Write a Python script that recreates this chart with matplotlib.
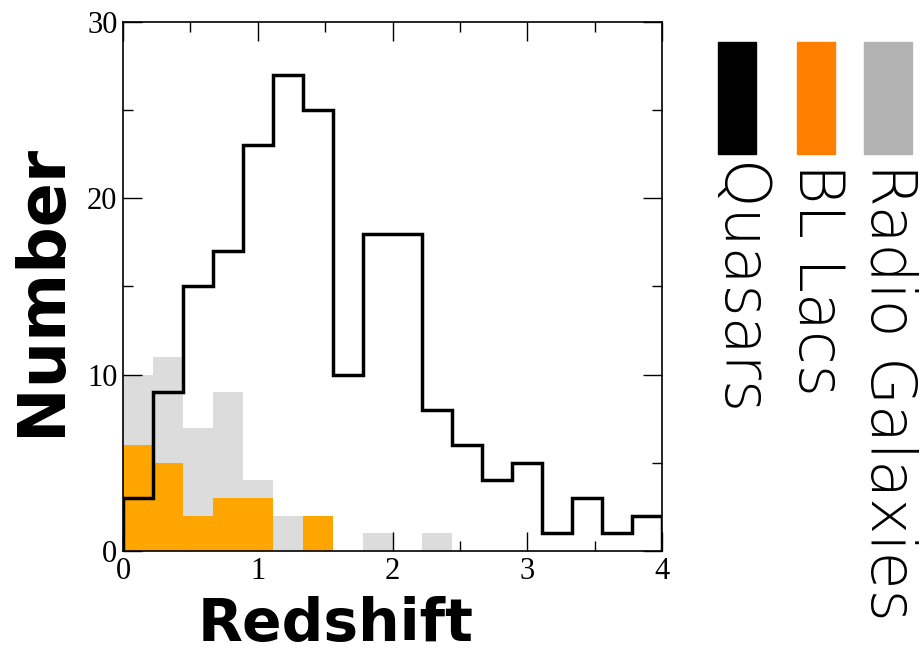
import matplotlib.pyplot as plt
import numpy as np
from matplotlib.ticker import MultipleLocator

# histogram bins: 18 bins from 0 to 4
edges = np.linspace(0, 4, 19)
quasars = [3, 9, 15, 17, 23, 27, 25, 10, 18, 18, 8, 6, 4, 5, 1, 3, 1, 2]
bl_lacs = [6, 5, 2, 3, 3, 0, 2, 0, 0, 0, 0, 0, 0, 0, 0, 0, 0, 0]
radio_gal = [10, 11, 7, 9, 4, 2, 0, 0, 1, 0, 1, 0, 0, 0, 0, 0, 0, 0]
labels = ['Quasars', 'BL Lacs', 'Radio Galaxies']

fig = plt.figure(figsize=(9.21, 6.55), dpi=100)
ax = fig.add_axes([0.1336, 0.1588, 0.5852, 0.8076])

w = edges[1] - edges[0]
ax.bar(edges[:-1], radio_gal, width=w, align='edge', color='#dcdcdc', linewidth=0, zorder=1)
ax.bar(edges[:-1], bl_lacs, width=w, align='edge', color='#ffa500', linewidth=0, zorder=2)
ax.stairs(quasars, edges, color='black', linewidth=2.5, zorder=3)

ax.set_xlim(0, 4)
ax.set_ylim(0, 30)
ax.xaxis.set_major_locator(MultipleLocator(1))
ax.xaxis.set_minor_locator(MultipleLocator(0.5))
ax.yaxis.set_major_locator(MultipleLocator(10))
ax.yaxis.set_minor_locator(MultipleLocator(5))
ax.tick_params(which='both', direction='in', top=True, right=True, width=1)
ax.tick_params(which='major', length=14)
ax.tick_params(which='minor', length=7)
ax.tick_params(axis='x', pad=4)
ax.tick_params(axis='y', pad=4)
for lab in ax.get_xticklabels() + ax.get_yticklabels():
    lab.set_fontfamily('Liberation Serif')
    lab.set_fontsize(22)
for s in ax.spines.values():
    s.set_linewidth(1.2)

fig.text(336 / 921, 0.003, 'Redshift', ha='center', va='bottom',
         fontsize=42, fontweight='bold', family='DejaVu Sans')
fig.text(42 / 921, 1 - 290 / 655, 'Number', ha='center', va='center', rotation=90,
         fontsize=47, fontweight='bold', family='DejaVu Sans')

# custom vertical legend
leg_colors = ['black', '#ff7f00', '#b3b3b3']
leg_x = [718, 797, 864]
leg_w = [38, 38, 48]
for name, c, x0, wd in zip(labels, leg_colors, leg_x, leg_w):
    fig.patches.append(plt.Rectangle((x0 / 921, 1 - 154 / 655), wd / 921, 112 / 655,
                                     transform=fig.transFigure, color=c))
    fig.text((x0 + wd / 2) / 921, 1 - 163 / 655, name, rotation=-90, ha='center', va='top',
             fontsize=44.5, family='DejaVu Sans', fontweight='light')

fig.savefig('out.png', dpi=100)
